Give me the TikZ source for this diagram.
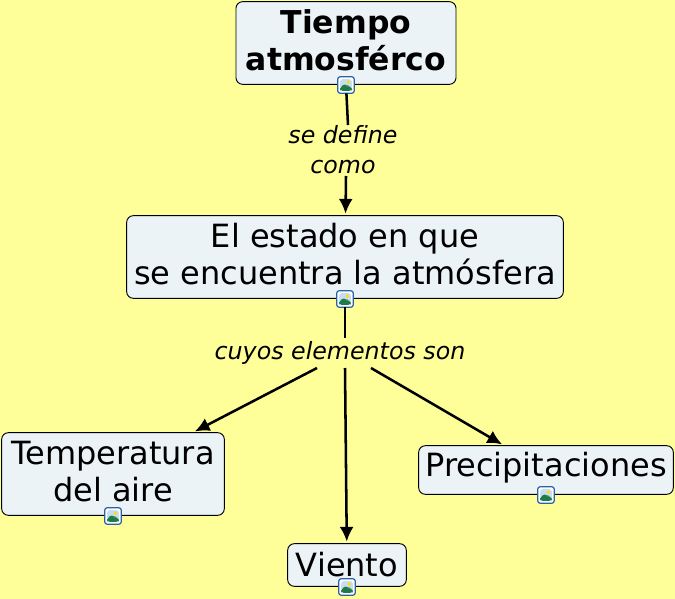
\documentclass[tikz,border=0pt]{standalone}
\usepackage{fontspec}
\setmainfont{DejaVu Sans}
\usetikzlibrary{arrows.meta}
\definecolor{fondo}{HTML}{FFFF99}
\definecolor{caja}{HTML}{EBF3F7}
\definecolor{marco}{HTML}{2A62A8}
\definecolor{monte}{HTML}{1F7A4A}
\definecolor{cielo}{HTML}{C9DDF0}
\tikzset{
  concepto/.style={draw=black, fill=caja, rounded corners=5pt, line width=0.7pt, align=center,
    font=\fontsize{24}{28}\selectfont, inner sep=0pt},
  subir/.style={execute at end node={\rule[-#1]{0pt}{#1}}},
  enlace/.style={align=center, inner sep=0pt, outer sep=0pt, font=\fontsize{17.8}{22.5}\selectfont\itshape},
  flecha/.style={line width=1.9pt, -{Latex[length=11pt,width=10.5pt]}, shorten >=1.2pt},
  linea/.style={line width=1.9pt},
  icono/.style={draw=marco, fill=white, line width=0.9pt, rounded corners=2pt, minimum size=12.5pt,
    inner sep=0pt, outer sep=0pt,
    path picture={
      \fill[cielo] ([xshift=-4.4pt,yshift=-4.4pt]path picture bounding box.center) rectangle ++(8.8pt,8.8pt);
      \fill[yellow!80!orange] ([xshift=1.8pt,yshift=2.2pt]path picture bounding box.center) circle (1.4pt);
      \fill[monte] ([xshift=-4.4pt,yshift=-4.4pt]path picture bounding box.center) -- ++(0,2pt) -- ++(2.8pt,3.4pt) -- ++(2pt,-2pt) -- ++(1.6pt,.8pt) -- ++(2.4pt,-2.4pt) -- ++(0,-1.8pt) -- cycle;
    }}
}
\begin{document}
\begin{tikzpicture}[x=0.75pt,y=-0.75pt]
  \useasboundingbox[fill=fondo] (0,0) rectangle (675,599);
  % conceptos
  \node[concepto, subir=4.5pt, minimum width=165pt, minimum height=62pt, font=\fontsize{23.6}{28}\selectfont\bfseries] (tiempo) at (346,43) {Tiempo\\atmosférco};
  \node[concepto, subir=4.5pt, minimum width=327.5pt, minimum height=62pt] (estado) at (345,257) {El estado en que\\se encuentra la atmósfera};
  \node[concepto, subir=4.5pt, minimum width=167pt, minimum height=62pt] (temperatura) at (113,474) {Temperatura\\del aire};
  \node[concepto, subir=8.5pt, minimum width=191pt, minimum height=36.5pt] (precipitaciones) at (546,470) {Precipitaciones};
  \node[concepto, subir=1.5pt, minimum width=89pt, minimum height=32pt] (viento) at (347,565) {Viento};
  % enlaces
  \node[enlace, minimum height=39pt] (sedefine) at (343,150) {se define\\como};
  \node[enlace, minimum height=22pt] (cuyos) at (340,353) {cuyos elementos son};
  % iconos
  \node[icono] (icotiempo) at (346,85) {};
  \node[icono] (icoestado) at (345,299) {};
  \node[icono] (icotemperatura) at (113,516) {};
  \node[icono] (icoprecipitaciones) at (546,495) {};
  \node[icono] (icoviento) at (347,587) {};
  % salidas del enlace
  \coordinate (cuyosa) at (317,368);
  \coordinate (cuyosb) at (345,368);
  \coordinate (cuyosc) at (371,368);
  \coordinate (definea) at (348,125);
  \coordinate (defineb) at (346,176);
  \draw[linea] (icotiempo) -- (definea);
  \draw[flecha] (defineb) -- (estado);
  \draw[linea] (icoestado) -- (cuyos.north -| icoestado);
  \draw[flecha] (cuyosa) -- (temperatura);
  \draw[flecha] (cuyosb) -- (viento);
  \draw[flecha] (cuyosc) -- (precipitaciones);
\end{tikzpicture}
\end{document}
